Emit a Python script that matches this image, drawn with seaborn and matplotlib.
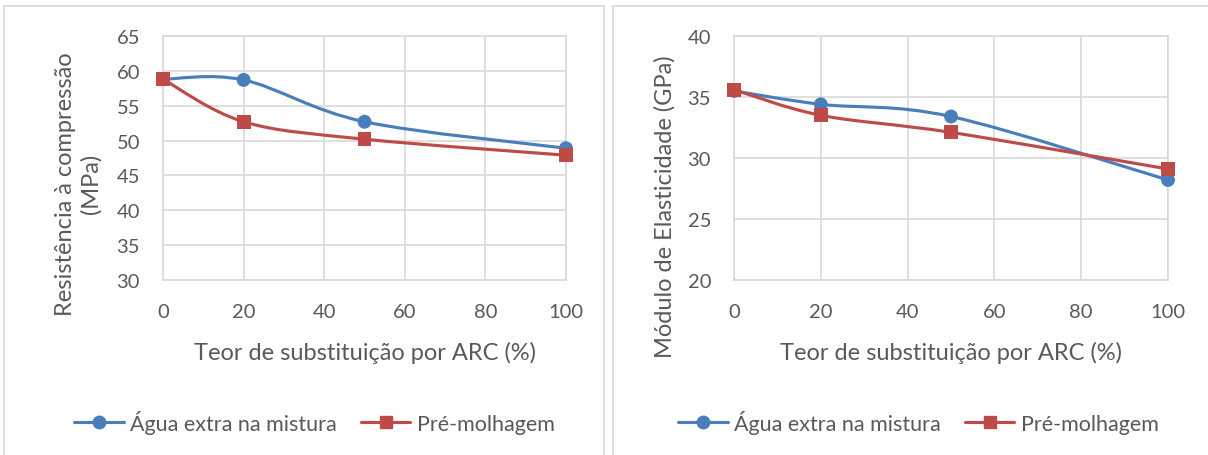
import numpy as np
import pandas as pd
import matplotlib
matplotlib.use("Agg")
import matplotlib.pyplot as plt
from matplotlib.path import Path
from matplotlib.patches import PathPatch, Rectangle
from matplotlib.lines import Line2D
import seaborn as sns

# Replacement content (%)
teor = [0, 20, 50, 100]

# Compressive strength (MPa)
resist_agua = [58.8, 58.7, 52.7, 48.9]
resist_pre = [58.8, 52.7, 50.2, 47.9]

# Elastic modulus (GPa)
modulo_agua = [35.5, 34.4, 33.4, 28.2]
modulo_pre = [35.6, 33.5, 32.1, 29.1]

series_names = ["Água extra na mistura", "Pré-molhagem"]
x_ticks = [0, 20, 40, 60, 80, 100]
x_label = "Teor de substituição por ARC (%)"

BLUE = "#4a7ebb"
RED = "#be4b48"
GRID = "#d9d9d9"
TXT = "#595959"

sns.set_theme(style="white")
plt.rcParams["font.family"] = ["Lato", "DejaVu Sans"]

W, H = 1208, 456


def smooth_path(xs, ys):
    """Smoothed line as a chain of cubic Bezier segments (Catmull-Rom style)."""
    pts = np.column_stack([xs, ys]).astype(float)
    n = len(pts)
    verts = [pts[0]]
    codes = [Path.MOVETO]
    for i in range(n - 1):
        p0 = pts[i - 1] if i > 0 else pts[i]
        p1 = pts[i]
        p2 = pts[i + 1]
        p3 = pts[i + 2] if i + 2 < n else pts[i + 1]
        c1 = p1 + (p2 - p0) / 6.0
        c2 = p2 - (p3 - p1) / 6.0
        verts += [c1, c2, p2]
        codes += [Path.CURVE4] * 3
    return Path(verts, codes)


fig = plt.figure(figsize=(W / 100, H / 100), dpi=100)

# panel borders
for x0, x1 in [(4, 604), (613, 1215)]:
    fig.patches.append(Rectangle((x0 / W, -0.05), (x1 - x0) / W, 0.05 + (H - 7) / H,
                                 transform=fig.transFigure, fill=False,
                                 edgecolor=GRID, linewidth=1.2))

panels = [
    dict(left=163, right=566, ylim=(30, 65), yticks=range(30, 66, 5),
         a=resist_agua, p=resist_pre,
         ylabel="Resistência à compressão\n(MPa)", ylab_x=78.5, ylab_y=184,
         legend_x=314.5),
    dict(left=734, right=1168, ylim=(20, 40), yticks=range(20, 41, 5),
         a=modulo_agua, p=modulo_pre,
         ylabel="Módulo de Elasticidade (GPa)", ylab_x=665, ylab_y=207,
         legend_x=918.5),
]

top_px, bot_px = 37, 281
for cfg in panels:
    wpx = cfg["right"] - cfg["left"]
    hpx = bot_px - top_px
    ax = fig.add_axes([cfg["left"] / W, 1 - bot_px / H, wpx / W, hpx / H])
    df = pd.DataFrame({
        "teor": teor * 2,
        "valor": list(cfg["a"]) + list(cfg["p"]),
        "serie": [series_names[0]] * 4 + [series_names[1]] * 4,
    })
    for color, vals in [(BLUE, cfg["a"]), (RED, cfg["p"])]:
        ax.add_patch(PathPatch(smooth_path(teor, vals), fill=False,
                               edgecolor=color, linewidth=2.25, zorder=3,
                               capstyle="round", joinstyle="round"))
    sns.scatterplot(data=df, x="teor", y="valor", hue="serie", style="serie",
                    palette=[BLUE, RED], markers=["o", "s"], s=100,
                    edgecolor="none", ax=ax, legend=False, zorder=4,
                    clip_on=False)
    ax.set_xlim(0, 100)
    ax.set_ylim(*cfg["ylim"])
    ax.set_xticks(x_ticks)
    ax.set_yticks(list(cfg["yticks"]))
    ax.grid(True, color=GRID, linewidth=1.2)
    ax.set_axisbelow(True)
    for s in ax.spines.values():
        s.set_color(GRID)
        s.set_linewidth(1.2)
    ax.tick_params(axis="both", length=0, labelsize=14.5, colors=TXT, pad=16.5)

    ax.set_xlabel(x_label, fontsize=17, color=TXT)
    ax.xaxis.label.set_va("center")
    ax.xaxis.set_label_coords(0.5, (bot_px - 353) / hpx)

    ax.set_ylabel(cfg["ylabel"], fontsize=17, color=TXT, linespacing=1.25)
    ax.yaxis.label.set_va("center")
    ax.yaxis.set_label_coords((cfg["ylab_x"] - cfg["left"]) / wpx,
                              (bot_px - cfg["ylab_y"]) / hpx)

    handles = [
        Line2D([], [], color=BLUE, linewidth=2.25, marker="o", markersize=9),
        Line2D([], [], color=RED, linewidth=2.25, marker="s", markersize=9),
    ]
    fig.legend(handles, series_names, loc="center",
               bbox_to_anchor=(cfg["legend_x"] / W, 1 - 423 / H),
               ncol=2, frameon=False, fontsize=15.5, labelcolor=TXT,
               handlelength=2.3, handletextpad=0.3, columnspacing=1.1)

fig.savefig("out.png", dpi=100)
